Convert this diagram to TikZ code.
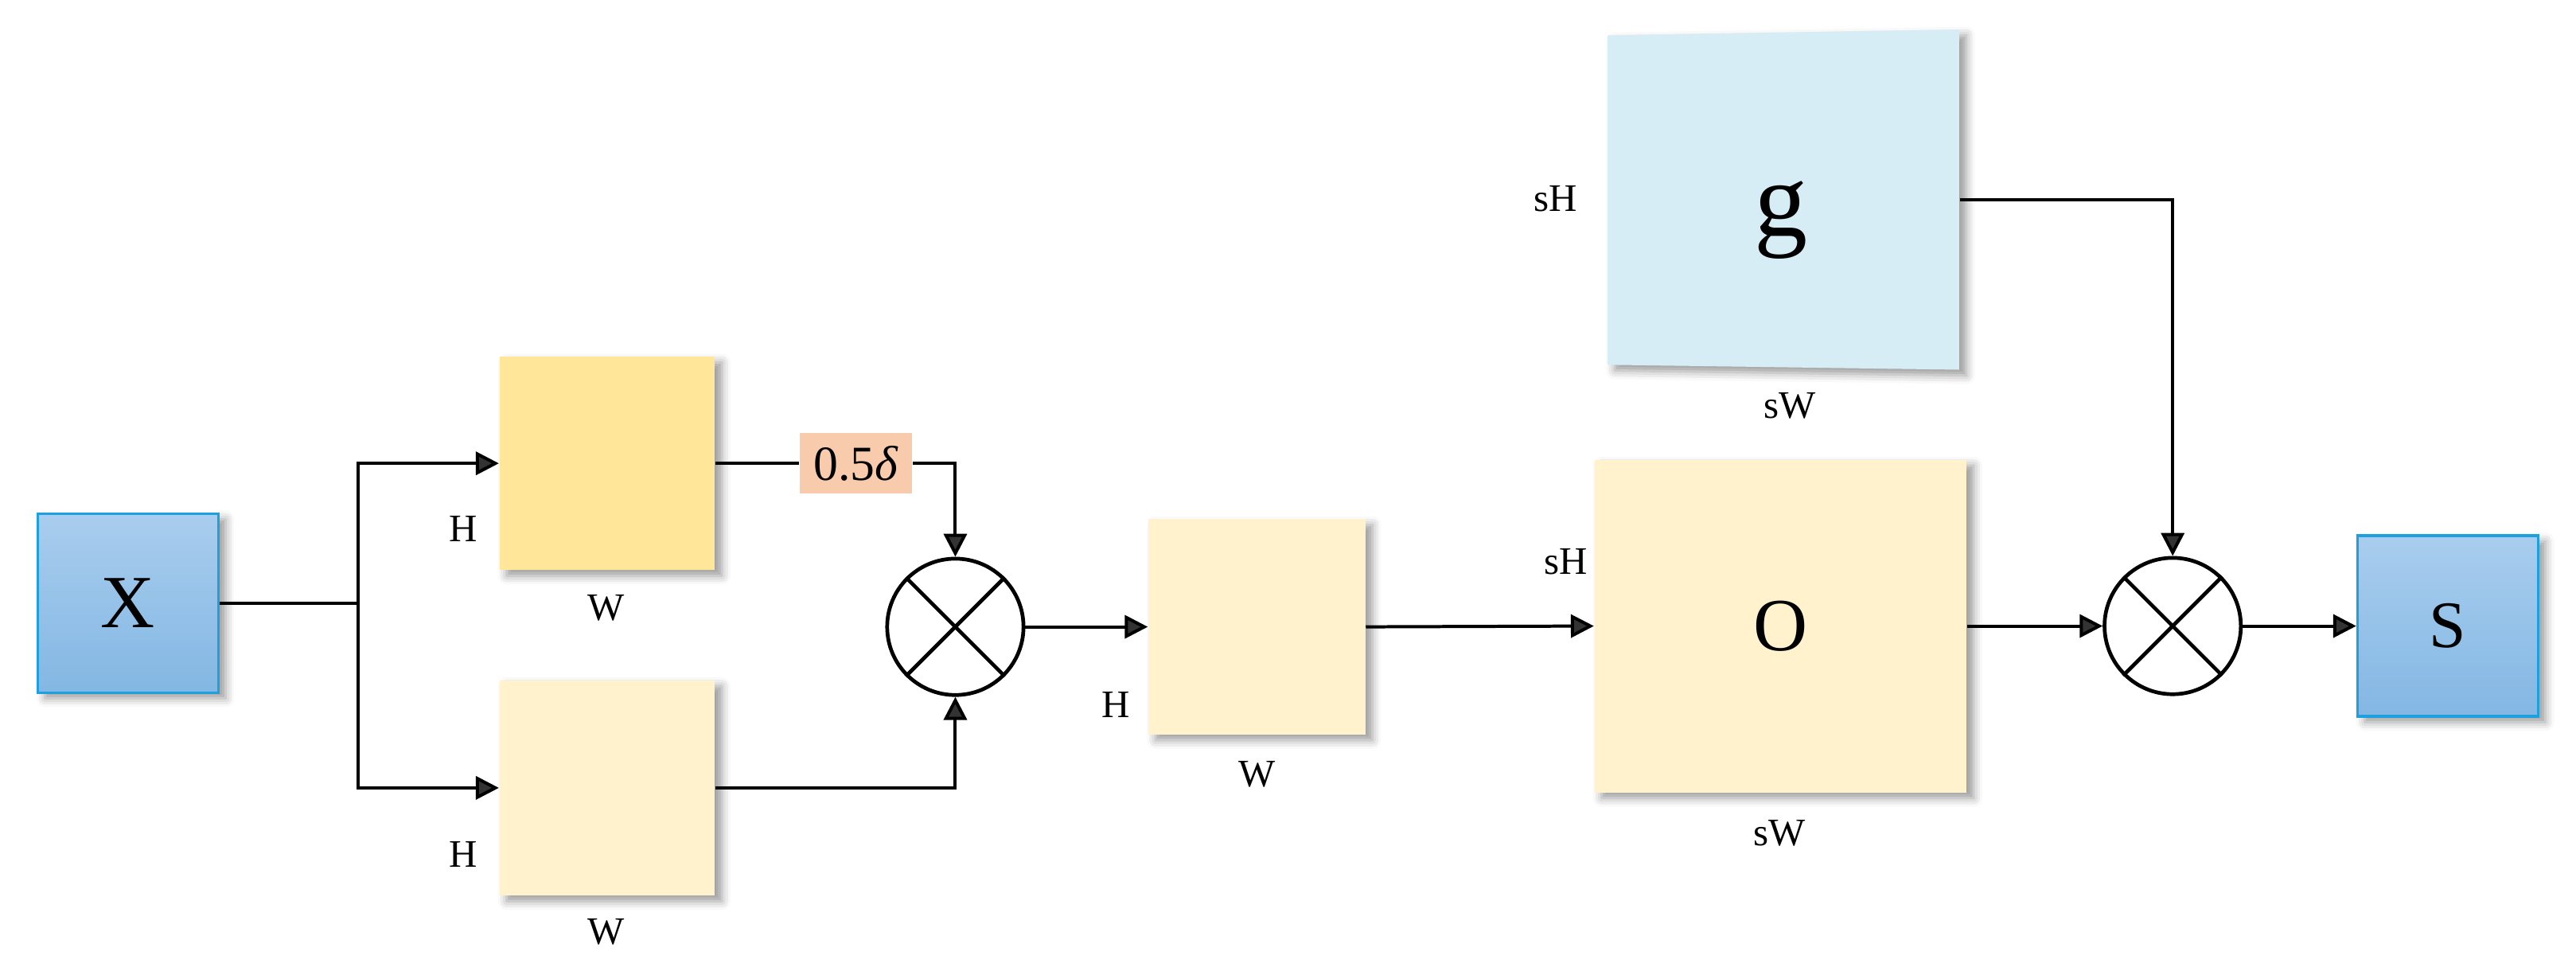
\documentclass[tikz,border=0pt]{standalone}
\usepackage{fontspec}
\setmainfont{Liberation Serif}
\usetikzlibrary{arrows.meta,shadows.blur}
\definecolor{goldbox}{HTML}{FFE699}
\definecolor{creambox}{HTML}{FFF2CC}
\definecolor{skybox}{HTML}{D6EDF5}
\definecolor{bluetop}{HTML}{A9CDEE}
\definecolor{bluebot}{HTML}{83B7E3}
\definecolor{blueedge}{HTML}{1FA0DE}
\definecolor{peach}{HTML}{F9CBAD}
\begin{document}
\begin{tikzpicture}[x=0.02cm,y=-0.02cm,
  shad/.style={blur shadow={shadow xshift=2.5pt,shadow yshift=-2pt,shadow blur radius=3pt,shadow opacity=40}},
  fmap/.style={rectangle, inner sep=0pt, shad},
  inbox/.style={rectangle, draw=blueedge, line width=0.9pt, top color=bluetop, bottom color=bluebot, inner sep=0pt, shad},
  dimlab/.style={font=\fontsize{13.5}{16}\selectfont, inner sep=0pt},
  conn/.style={line width=1.1pt},
  arr/.style={conn, -{Triangle[length=0.28cm,width=0.28cm]}},
  mult/.style={circle, draw, line width=1.3pt, minimum size=1.66cm, inner sep=0pt},
]
\useasboundingbox (0,0) rectangle (1568,590.5);

% input
\node[inbox, minimum width=2.2cm, minimum height=2.18cm, font=\fontsize{26}{30}\selectfont] (X) at (78,367) {X};

% two branches
\node[fmap, fill=goldbox, minimum width=2.62cm, minimum height=2.6cm] (top) at (369.5,282) {};
\node[fmap, fill=creambox, minimum width=2.62cm, minimum height=2.62cm] (bot) at (369.5,479.5) {};
\node[dimlab] (hT) at (282,322) {H};
\node[dimlab] (wT) at (369,370) {W};
\node[dimlab] (hB) at (282,520) {H};
\node[dimlab] (wB) at (369,567) {W};

% scale label
\node[fill=peach, minimum width=1.37cm, minimum height=0.74cm, inner sep=0pt, font=\fontsize{17}{20}\selectfont] (d) at (521,282) {0.5\textit{δ}};

% first multiplication
\node[mult] (c1) at (581.5,381.5) {};
\draw[line width=1.3pt] (c1.north west) -- (c1.south east) (c1.north east) -- (c1.south west);

% middle map
\node[fmap, fill=creambox, minimum width=2.64cm, minimum height=2.62cm] (mid) at (765,381.5) {};
\node[dimlab] (hM) at (679,429) {H};
\node[dimlab] (wM) at (765,471) {W};

% O map
\node[fmap, fill=creambox, minimum width=4.53cm, minimum height=4.05cm, font=\fontsize{26}{30}\selectfont] (O) at (1083.75,381) {O};
\node[dimlab] (hO) at (953,342) {sH};
\node[dimlab] (wO) at (1083,507) {sW};

% g map
\fill[skybox, shad] (978.5,21.5) -- (1192.5,18) -- (1192.5,225) -- (978.5,222) -- cycle;
\node[minimum width=4.28cm, minimum height=4.1cm, inner sep=0pt] (gbox) at (1085.5,121.5) {};
\node[font=\fontsize{37}{40}\selectfont, inner sep=0pt] (gl) at (1084,134) {g};
\node[dimlab] (hG) at (947,121) {sH};
\node[dimlab] (wG) at (1089.5,247) {sW};

% second multiplication
\node[mult] (c2) at (1322.5,381) {};
\draw[line width=1.3pt] (c2.north west) -- (c2.south east) (c2.north east) -- (c2.south west);

% output
\node[inbox, minimum width=2.2cm, minimum height=2.2cm, font=\fontsize{23}{27}\selectfont] (S) at (1490,381) {S};

% connectors
\coordinate (jn) at (218,367);
\draw[conn] (X.east) -- (jn);
\draw[arr] (jn) |- (top.west);
\draw[arr] (jn) |- (bot.west);
\draw[conn] (top.east) -- (d.west);
\draw[arr] (d.east) -| (c1.north);
\draw[arr] (bot.east) -| (c1.south);
\draw[arr] (c1.east) -- (mid.west);
\draw[arr] (mid.east) -- (O.west);
\draw[arr] (gbox.east) -| (c2.north);
\draw[arr] (O.east) -- (c2.west);
\draw[arr] (c2.east) -- (S.west);
\end{tikzpicture}
\end{document}
